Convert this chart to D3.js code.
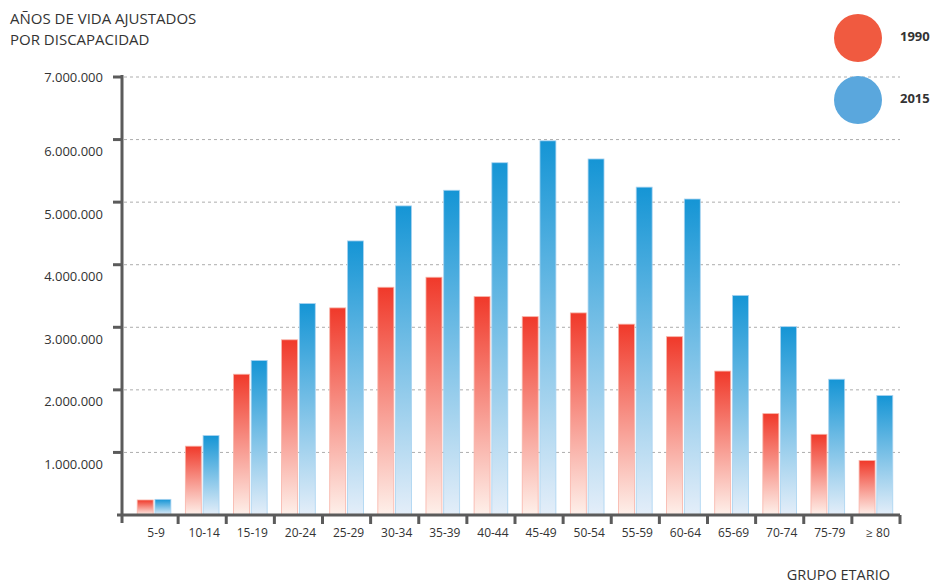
<!DOCTYPE html>
<html lang="es">
<head>
<meta charset="UTF-8">
<title>Años de vida ajustados por discapacidad</title>
<script src="https://cdn.jsdelivr.net/npm/d3@7"></script>
<style>
  * { margin: 0; padding: 0; }
  body { background: #fff; width: 931px; height: 583px; overflow: hidden; }
  svg { display: block; font-family: "Open Sans", "DejaVu Sans", sans-serif; }
</style>
</head>
<body>
<div id="chart"></div>
<script>
// grupos etarios
const groups = ["5-9", "10-14", "15-19", "20-24", "25-29", "30-34", "35-39", "40-44",
  "45-49", "50-54", "55-59", "60-64", "65-69", "70-74", "75-79", "\u2265 80"];
const years = ["1990", "2015"];
// valores (AVAD)
const v1990 = [240000, 1100000, 2250000, 2800000, 3310000, 3640000, 3800000, 3490000,
  3170000, 3230000, 3050000, 2850000, 2300000, 1620000, 1290000, 870000];
const v2015 = [250000, 1270000, 2470000, 3380000, 4380000, 4940000, 5190000, 5630000,
  5980000, 5690000, 5240000, 5050000, 3510000, 3010000, 2170000, 1910000];
const yTicks = [1000000, 2000000, 3000000, 4000000, 5000000, 6000000, 7000000];

const W = 931, H = 583;
const svg = d3.select("#chart").append("svg").attr("width", W).attr("height", H);

const x0 = d3.scaleBand().domain(groups).range([130, 900]).paddingInner(0.3).paddingOuter(0.15);
const x1 = d3.scaleBand().domain(years).range([0, x0.bandwidth()]).paddingInner(0.1);
const y = d3.scaleLinear().domain([0, 7000000]).range([515, 77]);
const fmt = d3.formatLocale({ decimal: ",", thousands: ".", grouping: [3], currency: ["", ""] }).format(",d");

// degradados
const defs = svg.append("defs");
function grad(id, top, bottom) {
  const g = defs.append("linearGradient").attr("id", id)
    .attr("x1", 0).attr("y1", 0).attr("x2", 0).attr("y2", 1);
  g.append("stop").attr("offset", "0%").attr("stop-color", top);
  g.append("stop").attr("offset", "100%").attr("stop-color", bottom);
}
grad("g1990", "#f0392a", "#fef0ea");
grad("g2015", "#1595d5", "#e4eef9");
const edge = { "1990": "#f8b3a8", "2015": "#a9d3f0" };

// lineas de guia
svg.append("g").selectAll("line").data(yTicks).enter().append("line")
  .attr("x1", 124).attr("x2", 900)
  .attr("y1", d => y(d)).attr("y2", d => y(d))
  .attr("stroke", "#adadad").attr("stroke-width", 1).attr("stroke-dasharray", "3,3");

// barras
const rows = groups.map((g, i) => ({ g: g, vals: [{ k: "1990", v: v1990[i] }, { k: "2015", v: v2015[i] }] }));
svg.append("g").selectAll("g").data(rows).enter().append("g")
  .attr("transform", d => "translate(" + x0(d.g) + ",0)")
  .selectAll("rect").data(d => d.vals).enter().append("rect")
  .attr("x", d => x1(d.k))
  .attr("width", x1.bandwidth())
  .attr("y", d => y(d.v))
  .attr("height", d => y(0) - y(d.v))
  .attr("fill", d => "url(#g" + d.k + ")")
  .attr("stroke", d => edge[d.k]).attr("stroke-width", 0.8);

// ejes
const axisColor = "#5b5b5b";
svg.append("line").attr("x1", 122).attr("x2", 122).attr("y1", 75).attr("y2", 523)
  .attr("stroke", axisColor).attr("stroke-width", 3);
svg.append("line").attr("x1", 117).attr("x2", 900).attr("y1", 515).attr("y2", 515)
  .attr("stroke", axisColor).attr("stroke-width", 3);
svg.append("g").selectAll("line").data(yTicks).enter().append("line")
  .attr("x1", 113).attr("x2", 122)
  .attr("y1", d => y(d)).attr("y2", d => y(d))
  .attr("stroke", axisColor).attr("stroke-width", 3);
svg.append("g").selectAll("text").data(yTicks).enter().append("text")
  .attr("x", 103)
  .attr("y", d => y(d) + (d === 7000000 ? 0 : 12))
  .attr("dy", "0.35em")
  .attr("text-anchor", "end")
  .attr("font-size", 13).attr("fill", "#333")
  .text(d => fmt(d));

const step = x0.step();
const xTickPos = groups.map(g => x0(g) + x0.bandwidth() + (step - x0.bandwidth()) / 2);
svg.append("g").selectAll("line").data(xTickPos).enter().append("line")
  .attr("x1", d => d).attr("x2", d => d).attr("y1", 515).attr("y2", 524)
  .attr("stroke", axisColor).attr("stroke-width", 3);
svg.append("g").selectAll("text").data(groups).enter().append("text")
  .attr("x", d => x0(d) + x0.bandwidth() / 2 + 2)
  .attr("y", 537)
  .attr("text-anchor", "middle")
  .attr("font-size", 12).attr("fill", "#333")
  .text(d => d);

// titulos
svg.append("text").attr("x", 10).attr("y", 24).attr("font-size", 15).attr("fill", "#333")
  .text("AÑOS DE VIDA AJUSTADOS");
svg.append("text").attr("x", 10).attr("y", 45).attr("font-size", 15).attr("fill", "#333")
  .text("POR DISCAPACIDAD");
svg.append("text").attr("x", 890).attr("y", 580).attr("text-anchor", "end")
  .attr("font-size", 14.5).attr("fill", "#333")
  .text("GRUPO ETARIO");

// leyenda
const legColors = { "1990": "#f05a40", "2015": "#5aa7dd" };
const leg = svg.append("g").selectAll("g").data(years).enter().append("g")
  .attr("transform", (d, i) => "translate(858," + (38 + i * 62) + ")");
leg.append("circle").attr("r", 24).attr("fill", d => legColors[d]);
leg.append("text").attr("x", 42).attr("y", -2).attr("dy", "0.35em")
  .attr("font-size", 13).attr("font-weight", "bold").attr("fill", "#333")
  .text(d => d);
</script>
</body>
</html>
